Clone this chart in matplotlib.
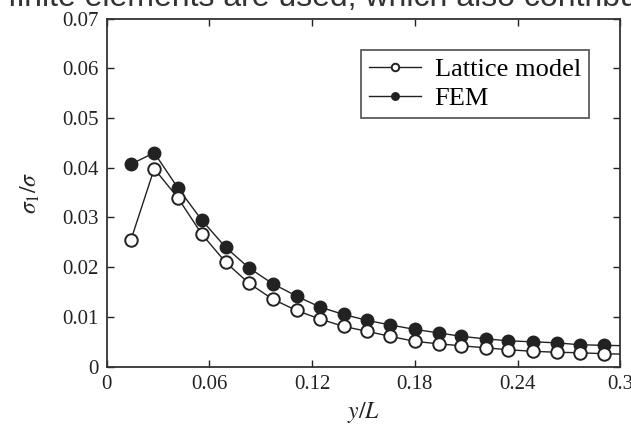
import matplotlib
matplotlib.use('Agg')
from matplotlib import pyplot as plt

# Values
y_over_L = [0.0141, 0.0278, 0.0415, 0.0555, 0.0695, 0.0830, 0.0969, 0.1109,
            0.1245, 0.1384, 0.1523, 0.1656, 0.1799, 0.1939, 0.2071, 0.2213,
            0.2347, 0.2488, 0.2628, 0.2767, 0.2907, 0.3045]
lattice = [0.0254, 0.0398, 0.0340, 0.0267, 0.0210, 0.0168, 0.0136, 0.0113,
           0.0096, 0.0081, 0.0071, 0.0061, 0.0051, 0.0046, 0.0042, 0.0038,
           0.0034, 0.0031, 0.0029, 0.0028, 0.0026, 0.0025]
fem = [0.0407, 0.0430, 0.0360, 0.0295, 0.0240, 0.0199, 0.0167, 0.0142,
       0.0120, 0.0105, 0.0093, 0.0084, 0.0075, 0.0068, 0.0061, 0.0056,
       0.0052, 0.0050, 0.0048, 0.0044, 0.0043, 0.0042]
xticks = [0, 0.06, 0.12, 0.18, 0.24, 0.3]
xticklabels = ['0', '0.06', '0.12', '0.18', '0.24', '0.3']
yticks = [0, 0.01, 0.02, 0.03, 0.04, 0.05, 0.06, 0.07]
yticklabels = ['0', '0.01', '0.02', '0.03', '0.04', '0.05', '0.06', '0.07']

plt.rcParams['font.family'] = ['Liberation Serif', 'DejaVu Serif']
plt.rcParams['mathtext.fontset'] = 'stix'

fig = plt.figure(figsize=(6.31, 4.41), dpi=100)
ax = fig.add_axes([0.169, 0.1685, 0.814, 0.7895])

ink = '#222222'
ax.plot(y_over_L, fem, '-o', color=ink, lw=1.0, ms=9, mfc=ink, mec=ink,
        mew=1.0, label='FEM', zorder=3)
ax.plot(y_over_L, lattice, '-o', color=ink, lw=1.0, ms=9, mfc='white',
        mec=ink, mew=1.4, label='Lattice model', zorder=4)

ax.set_xlim(0, 0.3)
ax.set_ylim(0, 0.07)
ax.set_xticks(xticks)
ax.set_xticklabels(xticklabels)
ax.set_yticks(yticks)
ax.set_yticklabels(yticklabels)
ax.tick_params(direction='in', top=True, right=True, length=5, width=1,
               labelsize=15, colors=ink, pad=6)
for s in ax.spines.values():
    s.set_linewidth(1.3)
    s.set_color('#333333')

ax.set_xlabel('$y/L$', fontsize=17, color=ink, labelpad=4)
ax.set_ylabel(r'$\sigma_1/\sigma$', fontsize=17, color=ink, labelpad=14)

handles, labels = ax.get_legend_handles_labels()
leg = ax.legend(handles[::-1], labels[::-1], loc='upper right',
                bbox_to_anchor=(0.9385, 0.91), fontsize=19, frameon=True,
                fancybox=False, edgecolor='#333333', markerscale=0.6,
                handlelength=2.0, borderpad=0.3, labelspacing=0.2,
                handletextpad=0.5, borderaxespad=0)
leg.get_frame().set_linewidth(1.3)

# clipped sentence from the page above the figure
fig.text(0.012, 1 - 6 / 441, 'finite elements are used, which also contribute',
         family='Liberation Sans', fontsize=23, color='#333333',
         va='baseline', ha='left')

fig.savefig('out.png', dpi=100)
